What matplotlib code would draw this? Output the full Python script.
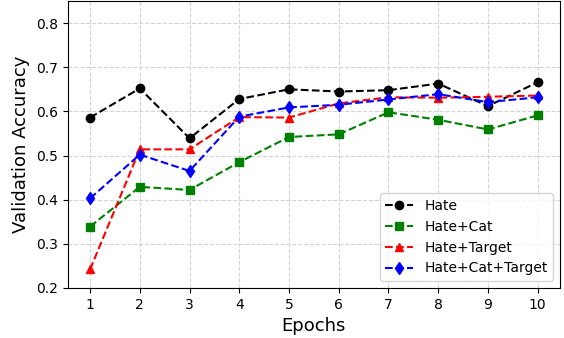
import numpy as np
import matplotlib
matplotlib.use('Agg')
import matplotlib.pyplot as plt

epochs = [1, 2, 3, 4, 5, 6, 7, 8, 9, 10]
hate = [0.586, 0.652, 0.539, 0.628, 0.650, 0.645, 0.648, 0.663, 0.612, 0.666]
hate_cat = [0.339, 0.429, 0.422, 0.485, 0.542, 0.548, 0.598, 0.581, 0.559, 0.591]
hate_target = [0.242, 0.514, 0.514, 0.587, 0.586, 0.618, 0.632, 0.631, 0.633, 0.636]
hate_cat_target = [0.403, 0.502, 0.465, 0.588, 0.609, 0.615, 0.627, 0.639, 0.621, 0.632]

fig = plt.figure(figsize=(5.64, 3.38), dpi=100)
ax = fig.add_axes([0.12, 0.148, 0.873, 0.849])

ax.plot(epochs, hate, 'k--o', label='Hate')
ax.plot(epochs, hate_cat, 'g--s', label='Hate+Cat')
ax.plot(epochs, hate_target, 'r--^', label='Hate+Target')
ax.plot(epochs, hate_cat_target, 'b--d', label='Hate+Cat+Target')

ax.set_ylim(0.2, 0.85)
ax.set_xticks(epochs)
ax.set_yticks([0.2, 0.3, 0.4, 0.5, 0.6, 0.7, 0.8])
ax.grid(True, linestyle='--', color='lightgray')
ax.set_xlabel('Epochs', fontsize=13)
ax.set_ylabel('Validation Accuracy', fontsize=13)
ax.legend(loc='lower right')

fig.savefig('out.png', dpi=100)
